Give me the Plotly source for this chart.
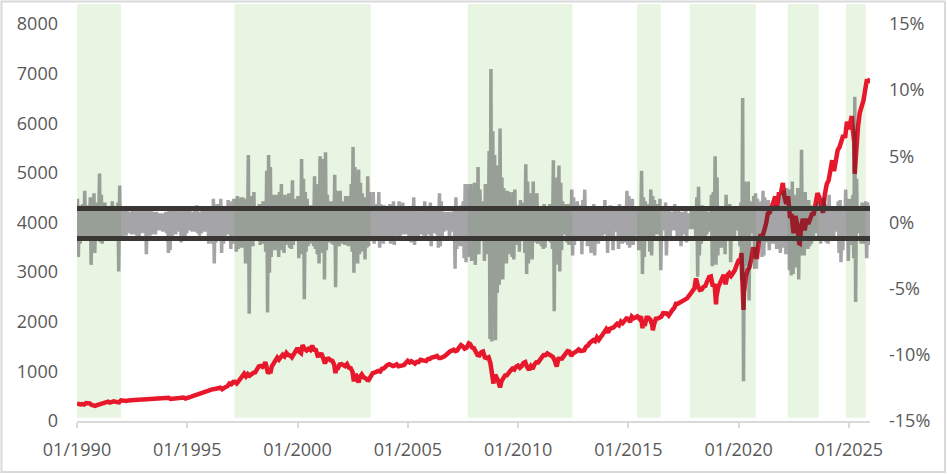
import pandas as pd
import plotly.graph_objects as go

# ---------------- data ----------------
# S&P 500 month-end closes, Jan 1990 .. Nov 2025
sp_monthly = [
    329.1, 331.9, 339.9, 330.8, 361.2, 358.0, 356.2, 322.6, 306.1, 304.0, 322.2, 330.2,
    343.9, 367.1, 375.2, 375.3, 389.8, 371.2, 387.8, 395.4, 387.9, 392.5, 375.2, 417.1,
    408.8, 412.7, 403.7, 414.9, 415.4, 408.1, 424.2, 414.0, 417.8, 418.7, 431.4, 435.7,
    438.8, 443.4, 451.7, 440.2, 450.2, 451.0, 448.1, 464.0, 458.9, 467.8, 461.8, 466.5,
    481.6, 467.1, 445.8, 450.9, 456.5, 444.3, 458.3, 475.5, 462.7, 472.4, 453.7, 459.3,
    470.4, 487.4, 500.7, 514.7, 533.4, 544.8, 562.1, 561.9, 584.4, 581.5, 605.4, 615.9,
    636.0, 640.4, 645.5, 654.2, 669.1, 670.6, 639.9, 652.0, 687.3, 705.3, 757.0, 740.7,
    786.2, 790.8, 757.1, 801.3, 848.3, 885.1, 954.3, 899.5, 947.3, 914.6, 955.4, 970.4,
    980.3, 1049.3, 1101.8, 1111.8, 1090.8, 1133.8, 1120.7, 957.3, 1017.0, 1098.7, 1163.6, 1229.2,
    1279.6, 1238.3, 1286.4, 1335.2, 1301.8, 1372.7, 1328.7, 1320.4, 1282.7, 1362.9, 1388.9, 1469.3,
    1394.5, 1366.4, 1498.6, 1452.4, 1420.6, 1454.6, 1430.8, 1517.7, 1436.5, 1429.4, 1315.2, 1320.3,
    1366.0, 1239.9, 1160.3, 1249.5, 1255.8, 1224.4, 1211.2, 1133.6, 1040.9, 1059.8, 1139.5, 1148.1,
    1130.2, 1106.7, 1147.4, 1076.9, 1067.1, 989.8, 911.6, 916.1, 815.3, 885.8, 936.3, 879.8,
    855.7, 841.2, 848.2, 916.9, 963.6, 974.5, 990.3, 1008.0, 996.0, 1050.7, 1058.2, 1111.9,
    1131.1, 1144.9, 1126.2, 1107.3, 1120.7, 1140.8, 1101.7, 1104.2, 1114.6, 1130.2, 1173.8, 1211.9,
    1181.3, 1203.6, 1180.6, 1156.9, 1191.5, 1191.3, 1234.2, 1220.3, 1228.8, 1207.0, 1249.5, 1248.3,
    1280.1, 1280.7, 1294.9, 1310.6, 1270.1, 1270.2, 1276.7, 1303.8, 1335.9, 1377.9, 1400.6, 1418.3,
    1438.2, 1406.8, 1420.9, 1482.4, 1530.6, 1503.4, 1455.3, 1474.0, 1526.8, 1549.4, 1481.1, 1468.4,
    1378.6, 1330.6, 1322.7, 1385.6, 1400.4, 1280.0, 1267.4, 1282.8, 1166.4, 968.8, 896.2, 903.3,
    825.9, 735.1, 797.9, 872.8, 919.1, 919.3, 987.5, 1020.6, 1057.1, 1036.2, 1095.6, 1115.1,
    1073.9, 1104.5, 1169.4, 1186.7, 1089.4, 1030.7, 1101.6, 1049.3, 1141.2, 1183.3, 1180.6, 1257.6,
    1286.1, 1327.2, 1325.8, 1363.6, 1345.2, 1320.6, 1292.3, 1218.9, 1131.4, 1253.3, 1247.0, 1257.6,
    1312.4, 1365.7, 1408.5, 1397.9, 1310.3, 1362.2, 1379.3, 1406.6, 1440.7, 1412.2, 1416.2, 1426.2,
    1498.1, 1514.7, 1569.2, 1597.6, 1630.7, 1606.3, 1685.7, 1633.0, 1681.6, 1756.5, 1805.8, 1848.4,
    1782.6, 1859.5, 1872.3, 1884.0, 1923.6, 1960.2, 1930.7, 2003.4, 1972.3, 2018.1, 2067.6, 2058.9,
    1995.0, 2104.5, 2067.9, 2085.5, 2107.4, 2063.1, 2103.8, 1972.2, 1920.0, 2079.4, 2080.4, 2043.9,
    1940.2, 1932.2, 2059.7, 2065.3, 2097.0, 2098.9, 2173.6, 2171.0, 2168.3, 2126.2, 2198.8, 2238.8,
    2278.9, 2363.6, 2362.7, 2384.2, 2411.8, 2423.4, 2470.3, 2471.7, 2519.4, 2575.3, 2647.6, 2673.6,
    2823.8, 2713.8, 2640.9, 2648.1, 2705.3, 2718.4, 2816.3, 2901.5, 2914.0, 2711.7, 2760.2, 2506.9,
    2704.1, 2784.5, 2834.4, 2945.8, 2752.1, 2941.8, 2980.4, 2926.5, 2976.7, 3037.6, 3141.0, 3230.8,
    3225.5, 2954.2, 2584.6, 2912.4, 3044.3, 3100.3, 3271.1, 3500.3, 3363.0, 3270.0, 3621.6, 3756.1,
    3714.2, 3811.2, 3972.9, 4181.2, 4204.1, 4297.5, 4395.3, 4522.7, 4307.5, 4605.4, 4567.0, 4766.2,
    4515.6, 4373.9, 4530.4, 4131.9, 4132.2, 3785.4, 4130.3, 3955.0, 3585.6, 3872.0, 4080.1, 3839.5,
    4076.6, 3970.2, 4109.3, 4169.5, 4179.8, 4450.4, 4589.0, 4507.7, 4288.1, 4193.8, 4567.8, 4769.8,
    4845.7, 5096.3, 5254.4, 5035.7, 5277.5, 5460.5, 5522.3, 5648.4, 5762.5, 5705.5, 6032.4, 5881.6,
    6040.5, 5954.5, 5611.9, 5569.1, 5911.7, 6205.0, 6339.4, 6460.3, 6688.5, 6840.2, 6849.1,
]
# intra-month extremes and start/end points of the index
sp_extra_dates = [
    "1990-01-02", "1990-10-11", "1998-07-17", "1998-10-08", "2000-03-24", "2001-09-21",
    "2002-07-23", "2002-10-09", "2003-03-11", "2007-10-09", "2008-11-20", "2009-03-09",
    "2011-10-03", "2015-08-25", "2016-02-11", "2018-01-26", "2018-12-24", "2020-02-19",
    "2020-03-23", "2022-01-03", "2022-10-12", "2025-02-19", "2025-04-08", "2025-10-28",
    "2025-12-16",
]
sp_extra_values = [
    353.4, 295.5, 1186.8, 959.4, 1527.5, 965.8,
    797.7, 776.8, 800.7, 1565.2, 752.4, 676.5,
    1099.2, 1867.6, 1829.1, 2872.9, 2351.1, 3386.2,
    2237.4, 4796.6, 3577.0, 6144.2, 4982.8, 6890.9,
    6900.0,
]

# monthly max / min daily return (%), Jan 1990 .. Dec 2025
ret_max = [
    1.8, 1.3, 1.2, 1.4, 2.4, 1.3, 1.1, 1.9, 1.8, 2.2, 1.5, 1.2,
    3.7, 2.1, 1.4, 1.5, 1.2, 1.2, 1.2, 1.6, 0.9, 1.1, 1.5, 2.8,
    1.0, 0.9, 0.8, 1.0, 0.7, 0.8, 1.1, 0.7, 0.9, 0.9, 0.9, 0.8,
    0.9, 1.2, 0.9, 0.8, 0.9, 0.8, 0.7, 0.8, 0.7, 0.7, 0.6, 0.7,
    0.8, 0.8, 1.1, 1.2, 1.0, 0.9, 0.8, 0.9, 1.1, 1.1, 0.7, 1.2,
    0.7, 1.0, 0.8, 0.7, 1.0, 1.3, 0.8, 0.8, 1.0, 1.0, 1.0, 0.8,
    1.1, 1.1, 1.8, 1.2, 1.4, 1.0, 1.8, 1.2, 1.2, 1.0, 1.7, 1.2,
    1.6, 1.8, 1.2, 2.0, 1.3, 1.9, 1.9, 1.7, 1.8, 5.1, 2.0, 1.9,
    2.3, 1.2, 1.2, 1.4, 1.0, 1.6, 1.0, 3.9, 5.1, 4.2, 1.9, 2.1,
    2.1, 1.9, 2.3, 2.9, 1.4, 2.1, 1.7, 2.2, 1.7, 3.2, 1.8, 1.8,
    2.0, 2.0, 4.8, 3.3, 2.3, 1.8, 1.3, 1.3, 1.3, 3.5, 1.9, 2.9,
    5.0, 1.6, 4.8, 5.3, 2.1, 1.4, 1.6, 1.3, 3.6, 2.4, 2.3, 2.4,
    1.2, 1.6, 2.0, 2.0, 1.8, 2.9, 5.7, 4.2, 2.6, 4.0, 3.0, 2.2,
    1.9, 1.5, 3.5, 2.3, 1.9, 2.3, 1.2, 1.4, 2.3, 1.4, 1.3, 1.3,
    1.0, 1.1, 1.4, 1.1, 1.6, 1.0, 1.2, 1.6, 1.2, 1.5, 1.2, 0.8,
    0.9, 1.0, 1.0, 1.9, 1.1, 0.8, 0.9, 0.8, 0.9, 1.6, 1.0, 0.8,
    1.5, 0.9, 0.9, 1.0, 1.0, 2.2, 1.6, 0.8, 0.8, 0.8, 0.8, 0.8,
    0.7, 0.9, 1.9, 1.0, 1.1, 1.3, 1.6, 2.9, 2.9, 1.5, 2.9, 2.1,
    3.0, 1.4, 4.2, 2.5, 1.2, 1.6, 2.9, 1.8, 5.4, 11.6, 6.9, 5.1,
    4.3, 3.0, 7.1, 3.4, 2.6, 2.4, 2.4, 2.3, 1.8, 2.3, 2.5, 1.2,
    1.3, 1.7, 1.0, 1.5, 4.4, 3.1, 2.2, 1.3, 3.1, 1.1, 2.2, 0.9,
    1.0, 1.0, 1.4, 0.9, 0.9, 1.4, 0.8, 4.7, 3.0, 3.4, 4.3, 3.0,
    1.6, 1.0, 1.4, 1.4, 1.1, 2.5, 1.9, 1.1, 1.6, 1.3, 1.3, 1.7,
    2.5, 1.0, 0.8, 1.2, 1.0, 1.4, 1.0, 1.1, 1.2, 1.1, 0.8, 1.7,
    1.1, 1.2, 1.3, 1.0, 1.0, 0.8, 1.1, 1.4, 1.1, 1.2, 0.5, 2.4,
    2.0, 1.6, 1.8, 1.1, 0.9, 0.8, 1.2, 3.9, 1.9, 1.6, 1.2, 1.4,
    2.5, 2.0, 1.7, 0.9, 1.4, 1.8, 0.9, 0.6, 1.5, 0.5, 1.1, 0.8,
    0.8, 1.4, 0.7, 1.1, 0.8, 0.8, 0.5, 1.0, 0.7, 0.5, 1.0, 0.9,
    1.2, 1.9, 2.7, 1.1, 1.3, 0.9, 0.9, 0.8, 0.6, 2.1, 2.3, 5.0,
    3.4, 1.1, 1.1, 0.9, 1.1, 2.1, 0.8, 1.4, 1.1, 0.9, 0.8, 0.9,
    1.0, 1.5, 9.4, 3.1, 1.7, 3.1, 1.6, 1.0, 2.0, 2.2, 1.8, 1.5,
    1.6, 2.4, 1.9, 1.4, 1.7, 1.1, 1.0, 0.9, 1.3, 1.3, 1.3, 2.1,
    2.4, 2.2, 2.6, 2.5, 2.5, 3.1, 2.1, 1.1, 2.6, 2.6, 5.5, 1.5,
    2.3, 1.1, 1.7, 1.3, 1.1, 1.2, 1.0, 1.5, 0.8, 1.2, 1.9, 1.4,
    1.2, 2.1, 0.9, 1.2, 1.2, 1.1, 1.6, 1.7, 1.0, 0.9, 2.5, 1.1,
    1.8, 1.6, 2.1, 9.5, 3.3, 1.1, 0.8, 1.5, 0.6, 1.6, 1.5, 0.9,
]
ret_min = [
    -2.6, -1.6, -0.9, -1.3, -0.9, -1.2, -1.4, -3.2, -1.8, -2.3, -1.2, -1.0,
    -1.5, -1.6, -1.2, -1.4, -1.0, -1.4, -1.0, -1.3, -0.9, -1.1, -3.7, -1.0,
    -1.2, -0.8, -1.0, -0.8, -0.7, -0.9, -0.8, -0.9, -1.1, -1.4, -0.8, -0.6,
    -0.8, -2.4, -0.8, -1.0, -0.9, -0.7, -0.9, -0.4, -0.6, -0.6, -0.7, -0.5,
    -0.8, -2.3, -2.1, -1.1, -0.9, -0.9, -0.6, -0.7, -1.5, -0.9, -1.4, -0.8,
    -0.6, -0.6, -0.7, -0.5, -0.7, -0.8, -1.0, -0.8, -0.6, -0.7, -0.5, -1.6,
    -1.0, -1.6, -3.1, -1.5, -1.2, -1.2, -2.3, -1.6, -1.0, -0.9, -0.7, -2.0,
    -1.6, -1.3, -2.2, -2.0, -1.7, -1.9, -1.5, -3.1, -1.5, -6.9, -1.6, -1.8,
    -1.4, -1.2, -1.1, -1.7, -1.6, -1.3, -2.2, -6.8, -3.8, -2.6, -1.8, -2.1,
    -1.8, -2.6, -2.1, -2.1, -2.3, -1.7, -1.5, -1.9, -2.0, -1.7, -1.4, -1.2,
    -2.7, -2.0, -2.4, -5.8, -2.2, -1.8, -1.6, -0.9, -1.8, -2.0, -2.4, -3.1,
    -1.8, -2.3, -4.3, -2.1, -1.4, -1.5, -1.6, -1.7, -4.9, -1.7, -1.8, -1.6,
    -1.6, -1.7, -1.2, -1.8, -1.8, -2.2, -3.8, -2.3, -3.1, -2.4, -2.2, -1.9,
    -2.8, -1.9, -1.8, -1.3, -1.1, -1.6, -1.3, -1.1, -1.9, -1.2, -1.6, -0.6,
    -1.3, -1.1, -1.6, -1.6, -1.7, -1.0, -1.0, -1.4, -0.8, -0.9, -0.7, -0.9,
    -1.2, -1.5, -1.0, -1.7, -0.7, -1.1, -0.8, -0.9, -1.0, -1.4, -0.6, -0.9,
    -1.8, -0.8, -0.8, -0.9, -1.9, -1.8, -1.1, -0.7, -0.6, -0.6, -1.4, -0.7,
    -0.7, -3.5, -2.0, -0.9, -1.8, -1.5, -2.7, -3.0, -1.7, -2.6, -2.9, -2.5,
    -3.2, -2.0, -2.4, -1.0, -1.1, -2.9, -2.4, -1.7, -8.8, -9.0, -6.7, -8.9,
    -5.3, -4.7, -4.3, -4.3, -3.1, -3.1, -1.7, -2.4, -2.6, -2.8, -1.7, -1.2,
    -2.2, -1.1, -0.6, -2.3, -3.9, -3.1, -1.9, -2.8, -1.5, -1.2, -1.6, -0.5,
    -1.8, -2.0, -1.9, -1.1, -1.1, -1.5, -2.0, -6.7, -3.2, -2.5, -3.7, -2.1,
    -0.6, -0.9, -1.5, -1.7, -1.7, -2.5, -1.7, -0.9, -1.1, -1.4, -2.4, -1.3,
    -0.4, -1.8, -1.1, -2.3, -1.4, -2.5, -0.6, -1.6, -1.0, -1.2, -0.6, -0.9,
    -2.3, -0.8, -1.2, -2.1, -0.6, -0.7, -2.0, -0.9, -1.6, -1.5, -0.7, -1.7,
    -1.9, -0.9, -1.7, -1.0, -1.0, -2.1, -1.4, -3.9, -2.6, -0.7, -1.1, -2.2,
    -2.5, -1.3, -0.9, -0.9, -0.9, -3.6, -0.5, -0.6, -2.5, -0.7, -1.3, -0.4,
    -0.6, -0.3, -1.2, -0.7, -1.8, -0.9, -0.2, -1.5, -0.3, -0.5, -0.4, -0.5,
    -1.1, -4.1, -2.5, -1.6, -1.2, -1.4, -0.9, -0.5, -0.7, -3.3, -2.0, -3.2,
    -2.5, -0.5, -1.9, -0.9, -2.4, -1.3, -1.1, -3.0, -1.2, -1.2, -0.4, -0.6,
    -1.8, -4.4, -12.0, -3.3, -1.4, -5.9, -0.7, -0.8, -3.5, -3.5, -1.5, -0.4,
    -2.6, -2.5, -1.5, -1.2, -2.1, -1.3, -1.6, -0.6, -2.0, -1.3, -2.3, -1.1,
    -1.9, -2.4, -1.5, -3.6, -4.0, -3.9, -0.9, -3.4, -4.3, -2.4, -2.5, -2.5,
    -1.4, -2.0, -1.8, -1.6, -1.4, -0.8, -0.7, -1.4, -1.6, -1.4, -0.2, -1.5,
    -1.6, -1.4, -0.7, -1.2, -0.7, -0.3, -2.3, -3.0, -2.1, -1.0, -0.6, -2.9,
    -1.5, -1.7, -2.7, -6.0, -0.8, -0.8, -1.6, -1.6, -0.5, -2.7, -1.7, -0.8,
]
# volatility thresholds (%)
thresholds = [1.05, -1.2]

# high-volatility regimes (shaded)
regime_start = ["1989-12-20", "1997-02-20", "2007-09-20", "2015-05-25", "2017-10-15", "2022-03-25", "2024-11-15"]
regime_end = ["1991-12-31", "2003-04-28", "2012-06-20", "2016-06-20", "2020-10-12", "2023-08-20", "2025-10-08"]

x_tickvals = ["1990-01-01", "1995-01-01", "2000-01-01", "2005-01-01", "2010-01-01", "2015-01-01", "2020-01-01", "2025-01-01"]
x_ticktext = ["01/1990", "01/1995", "01/2000", "01/2005", "01/2010", "01/2015", "01/2020", "01/2025"]
left_ticks = [0, 1000, 2000, 3000, 4000, 5000, 6000, 7000, 8000]
right_ticks = [-15, -10, -5, 0, 5, 10, 15]
right_ticktext = ["-15%", "-10%", "-5%", "0%", "5%", "10%", "15%"]

# ---------------- build series ----------------
sp = pd.Series(sp_monthly, index=pd.date_range("1990-01-31", periods=len(sp_monthly), freq="ME"))
sp_ex = pd.Series(sp_extra_values, index=pd.to_datetime(sp_extra_dates))
sp_all = pd.concat([sp, sp_ex]).sort_index()

month_starts = pd.date_range("1990-01-01", periods=len(ret_max), freq="MS")
zz_x, zz_y = [], []
for d, hi, lo in zip(month_starts, ret_max, ret_min):
    zz_x += [d + pd.Timedelta(days=8), d + pd.Timedelta(days=22)]
    zz_y += [hi, lo]

FONT = "Open Sans"
TXT = "#595959"

fig = go.Figure()
fig.add_trace(go.Scatter(
    x=sp_all.index, y=sp_all.values, mode="lines",
    line=dict(color="#E8182C", width=4.5), yaxis="y", showlegend=False, hoverinfo="skip",
))
fig.add_trace(go.Scatter(
    x=zz_x, y=zz_y, mode="lines",
    line=dict(color="rgba(40,40,46,0.42)", width=3.5, simplify=False),
    yaxis="y2", showlegend=False, hoverinfo="skip",
))
x_end = ["1990-01-01", "2025-12-17"]
for t in thresholds:
    fig.add_trace(go.Scatter(
        x=x_end, y=[t, t], mode="lines",
        line=dict(color="#3A3633", width=5), yaxis="y2", showlegend=False, hoverinfo="skip",
    ))

shapes = []
for s, e in zip(regime_start, regime_end):
    shapes.append(dict(type="rect", xref="x", yref="paper", x0=s, x1=e, y0=0.008, y1=1,
                       fillcolor="#E9F5E3", line=dict(width=0), layer="below"))
# chart border
W, H = 947, 474
L, R, T, B = 77, 77, 4, 53
pw, ph = W - L - R, H - T - B
shapes.append(dict(type="rect", xref="paper", yref="paper",
                   x0=(1.5 - L) / pw, x1=(W - 2 - L) / pw,
                   y0=(H - B - (H - 2)) / ph, y1=(H - B - 1.5) / ph,
                   line=dict(color="#D9D9D9", width=2), fillcolor="rgba(0,0,0,0)", layer="above"))

ytop = 8000 * ph / 397.0
r_top = -15 + 30 * ph / 397.0

fig.update_layout(
    width=W, height=H,
    margin=dict(l=L, r=R, t=T, b=B),
    paper_bgcolor="white", plot_bgcolor="white",
    font=dict(family=FONT, size=18, color=TXT),
    shapes=shapes,
    hovermode=False,
    xaxis=dict(
        type="date", range=["1990-01-01", "2025-12-17"],
        tickvals=x_tickvals, ticktext=x_ticktext,
        showgrid=False, zeroline=False,
        showline=True, linecolor="#D9D9D9", linewidth=2,
        ticks="outside", ticklen=5, tickwidth=2, tickcolor="#D9D9D9",
        ticklabelstandoff=6,
        tickfont=dict(family=FONT, size=18, color=TXT),
    ),
    yaxis=dict(
        range=[0, ytop], tickvals=left_ticks,
        showgrid=False, zeroline=False, showline=False,
        ticklabelstandoff=18,
        tickfont=dict(family=FONT, size=18, color=TXT),
    ),
    yaxis2=dict(
        range=[-15, r_top], overlaying="y", side="right",
        tickvals=right_ticks, ticktext=right_ticktext,
        showgrid=False, zeroline=False, showline=False,
        ticklabelstandoff=18,
        tickfont=dict(family=FONT, size=18, color=TXT),
    ),
)

fig.write_html(
    "out.html",
    config={"displayModeBar": False, "staticPlot": True},
    post_script="document.body.style.margin='0';document.body.style.overflow='hidden';",
)
